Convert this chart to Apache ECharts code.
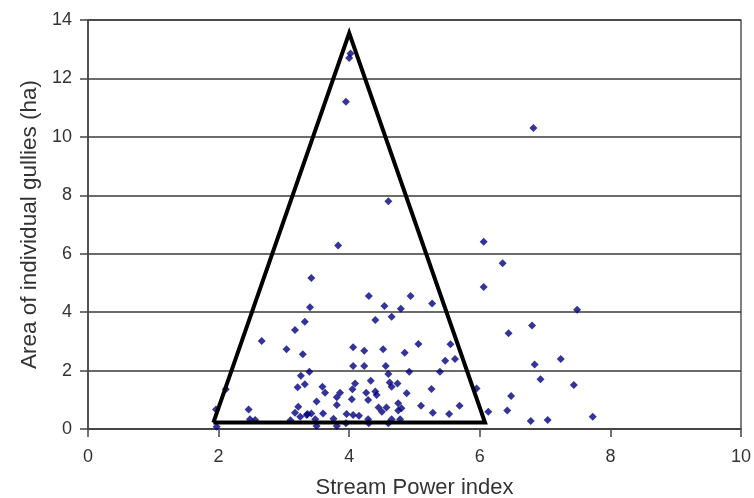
<!DOCTYPE html>
<html>
<head>
<meta charset="utf-8">
<script src="https://cdn.jsdelivr.net/npm/echarts@6/dist/echarts.min.js"></script>
<style>html,body{margin:0;padding:0;background:#fff}#c{width:754px;height:498px}</style>
</head>
<body>
<div id="c"></div>
<script>
const xTicks = [0, 2, 4, 6, 8, 10];
const yTicks = [0, 2, 4, 6, 8, 10, 12, 14];

const spiIndex = [4.02,4.0,3.95,4.6,6.82,3.83,6.06,6.35,6.06,3.42,4.3,4.94,5.27,4.54,4.79,3.4,4.4,4.65,3.32,3.17,6.44,7.49,6.8,7.24,6.84,6.93,7.44,6.48,6.42,6.78,7.04,7.73,
2.66,3.04,3.29,3.39,3.26,3.32,3.21,3.5,3.22,3.17,3.36,3.25,2.11,2.46,2.48,2.56,1.96,1.97,
4.06,4.23,4.52,4.85,5.06,4.06,4.23,4.56,4.6,4.92,4.33,4.62,4.74,4.09,4.65,3.59,4.05,3.63,3.86,4.26,4.4,4.88,3.81,4.04,4.29,4.42,3.81,4.45,4.57,4.75,4.8,4.5,4.75,3.42,3.6,3.96,4.06,4.15,3.48,3.76,4.29,4.65,4.78,3.5,3.81,
5.55,5.47,5.62,5.39,5.26,5.95,5.1,5.69,5.28,5.53,6.13,3.35,3.95,4.3,4.6,3.1];
const gullyArea = [12.85,12.7,11.2,7.8,10.3,6.28,6.41,5.67,4.86,5.17,4.55,4.55,4.3,4.21,4.12,4.17,3.73,3.84,3.67,3.39,3.28,4.08,3.54,2.4,2.21,1.7,1.51,1.13,0.63,0.27,0.31,0.42,
3.01,2.73,2.56,1.96,1.82,1.53,1.43,0.94,0.76,0.56,0.51,0.42,1.36,0.67,0.33,0.31,0.67,0.08,
2.8,2.68,2.73,2.61,2.91,2.16,2.16,2.16,1.88,1.96,1.65,1.59,1.56,1.56,1.45,1.45,1.36,1.24,1.24,1.24,1.28,1.22,1.09,1.02,0.99,1.16,0.82,0.74,0.74,0.88,0.71,0.59,0.63,0.53,0.53,0.51,0.48,0.45,0.33,0.35,0.33,0.33,0.33,0.1,0.1,
2.9,2.34,2.4,1.96,1.37,1.39,0.8,0.8,0.56,0.51,0.59,0.48,0.2,0.2,0.2,0.3];

const triangleX = [1.92, 4.0, 6.08, 1.92];
const triangleY = [0.22, 13.55, 0.22, 0.22];

const points = spiIndex.map((x, i) => [x, gullyArea[i]]);
const triangle = triangleX.map((x, i) => [x, triangleY[i]]);

const chart = echarts.init(document.getElementById('c'));
const font = 'Liberation Sans, Arial, sans-serif';
chart.setOption({
  animation: false,
  backgroundColor: '#fff',
  grid: { left: 88, right: 13, top: 20, bottom: 69, containLabel: false, outerBoundsMode: 'none', show: true, borderColor: '#555', borderWidth: 1.5, backgroundColor: 'transparent' },
  xAxis: {
    type: 'value', min: 0, max: 10, interval: 2,
    name: 'Stream Power index', nameLocation: 'middle', nameGap: 48,
    nameTextStyle: { fontFamily: font, fontSize: 22, color: '#333' },
    axisLine: { onZero: false, lineStyle: { color: '#444', width: 1.5 } },
    axisTick: { show: true, inside: false, length: 8, lineStyle: { color: '#444', width: 1.5 } },
    axisLabel: { fontFamily: font, fontSize: 18, color: '#333', margin: 19, formatter: v => xTicks.includes(v) ? String(v) : '' },
    splitLine: { show: false }
  },
  yAxis: {
    type: 'value', min: 0, max: 14, interval: 2,
    name: 'Area of individual gullies (ha)', nameLocation: 'middle', nameGap: 46,
    nameTextStyle: { fontFamily: font, fontSize: 22.5, color: '#333' },
    axisLine: { show: true, lineStyle: { color: '#444', width: 1.5 } },
    axisTick: { show: true, inside: false, length: 8, lineStyle: { color: '#444', width: 1.5 } },
    axisLabel: { fontFamily: font, fontSize: 18, color: '#333', margin: 16, formatter: v => yTicks.includes(v) ? String(v) : '' },
    splitLine: { show: true, lineStyle: { color: '#3a3a3a', width: 1.5 } }
  },
  series: [
    {
      type: 'scatter', data: points, symbol: 'diamond', symbolSize: 8,
      itemStyle: { color: '#00007f' }, z: 3
    },
    {
      type: 'line', data: triangle, symbol: 'none', z: 4,
      lineStyle: { color: '#000', width: 4, join: 'miter', cap: 'butt' }
    }
  ]
});
</script>
</body>
</html>
